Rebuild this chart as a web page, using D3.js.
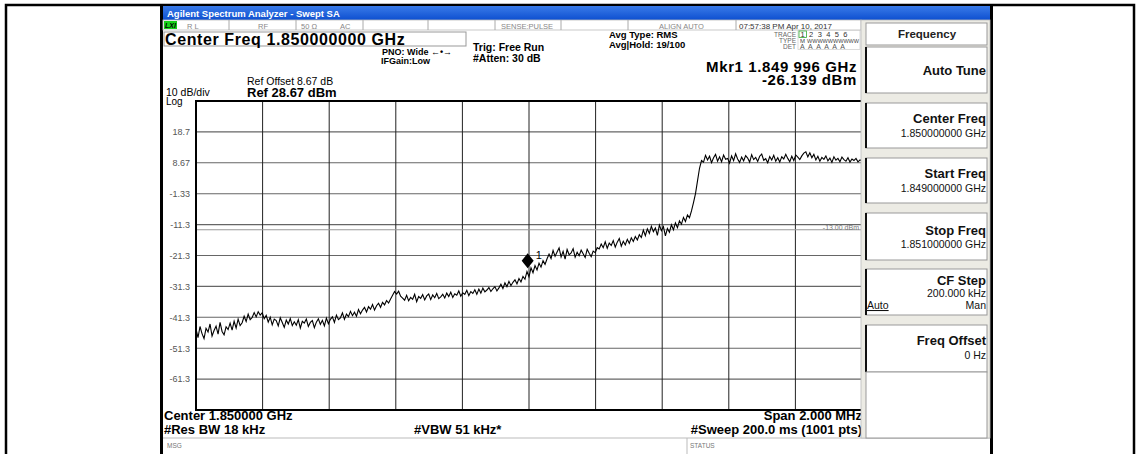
<!DOCTYPE html>
<html>
<head>
<meta charset="utf-8">
<script src="https://cdn.jsdelivr.net/npm/d3@7"></script>
<style>
  body { margin: 0; background: #fff; }
  svg { display: block; font-family: "Liberation Sans", Arial, sans-serif; }
</style>
</head>
<body>
<div id="chart"></div>
<script>
// sweep settings (GHz / dBm)
const startFreq = 1.849;
const stopFreq = 1.851;
const refLevel = 28.67;
const bottomLevel = -71.33;

const yTickValues = [18.67, 8.67, -1.33, -11.33, -21.33, -31.33, -41.33, -51.33, -61.33];
const yTickLabels = ["18.7", "8.67", "-1.33", "-11.3", "-21.3", "-31.3", "-41.3", "-51.3", "-61.3"];
const xDivisions = 10;

// trace 1 (333 samples across the span)
const traceDbm = [
  -45.1,-47.9,-44.3,-46.6,-48.2,-44.9,-46.1,-43.5,-47.4,-45.6,-44.2,-46.8,-43.0,-45.9,-47.0,-44.4,-45.3,
  -43.2,-45.5,-42.6,-44.8,-41.9,-44.0,-43.1,-41.0,-42.7,-40.3,-42.1,-41.4,-39.8,-41.2,
  -39.5,-40.6,-39.9,
  -41.8,-40.7,-42.9,-41.3,-43.8,-41.9,-42.4,-44.1,-41.5,-43.0,-44.6,-42.2,-43.5,-41.7,-44.0,-42.8,-43.9,
  -42.1,-44.8,-42.6,-43.2,-41.9,-44.3,-43.0,-42.4,-44.7,-42.9,-41.8,-43.6,-42.3,-44.1,-41.6,-43.4,-42.0,
  -41.2,-43.0,-40.6,-42.1,-41.5,-39.9,-42.0,-40.3,-41.1,-39.4,-40.8,-39.7,-41.0,-38.8,-40.2,
  -39.0,-38.1,-39.6,-37.9,-38.7,-37.2,-39.0,-37.6,-36.8,-38.1,-36.5,-37.3,-35.9,-36.7,-35.4,
  -34.2,-33.0,-33.8,-32.9,-34.5,-35.1,
  -35.8,-34.2,-36.0,-34.9,-35.5,-33.9,-36.3,-34.6,-35.2,-34.0,
  -35.7,-34.4,-33.8,-35.6,-34.1,-35.0,-33.6,-35.3,-34.7,-33.9,
  -35.1,-33.5,-34.6,-33.2,-34.9,-33.7,-34.2,-32.8,-34.5,-33.4,
  -33.9,-32.6,-34.3,-33.0,-33.6,-32.4,-33.9,-32.2,-33.5,-31.9,
  -33.1,-32.5,-31.7,-33.0,-32.1,-31.4,-32.8,
  -31.8,-30.6,-32.0,-30.2,-31.4,-29.7,-31.1,-30.0,-29.2,-30.5,-28.8,-29.9,-28.1,-29.0,
  -26.5,-28.2,-25.3,-26.9,-24.6,-26.0,-23.8,-25.1,-23.0,-24.2,-22.4,
  -20.9,-22.3,-19.7,-21.6,-20.2,-18.9,-21.8,-20.0,-22.5,-19.4,
  -21.1,-20.5,-19.1,-21.9,-20.3,-21.4,-19.6,-20.8,-22.0,-19.3,
  -20.6,-21.7,-19.9,-20.4,-18.8,
  -19.2,-17.6,-18.8,-16.9,-19.0,-17.3,-18.1,-16.5,-18.6,-17.0,
  -15.8,-18.3,-16.7,-17.9,-16.1,-17.4,-15.6,-16.8,-15.2,-16.3,
  -14.6,-15.5,-13.1,-14.9,-12.7,-14.2,-11.9,-13.6,-12.4,-14.8,-11.5,-13.3,-12.0,
  -15.0,-12.6,-13.8,-11.4,-13.0,-10.8,-12.3,-10.1,-11.2,-9.0,-10.3,-8.2,-9.1,-6.9,
  -4.2,-1.3,2.8,6.9,9.4,
  8.9,11.1,9.6,10.8,8.7,10.3,11.4,9.2,10.6,9.0,
  11.2,9.8,10.1,8.6,10.9,9.4,11.6,9.9,8.8,10.5,
  9.3,11.0,10.2,8.9,11.3,9.7,10.4,9.1,10.8,11.5,
  9.5,10.0,8.7,10.7,9.6,11.1,9.2,10.3,8.9,10.6,
  9.9,11.4,10.1,9.0,10.8,9.4,11.2,10.5,9.7,10.9,
  11.8,12.2,10.6,11.9,10.3,11.4,9.6,10.8,9.2,10.4,
  9.8,10.9,9.3,10.2,8.8,10.6,9.5,10.1,9.0,10.5,
  9.7,9.2,10.3,8.9,9.9,9.4,10.1,9.0,9.6,9.3
];

const markerFreq = 1.849996;
const markerDbm = -26.139;
const displayLine = -13.0;

const statusCells = ["R L", "RF", "50 \u03a9", "AC", "SENSE:PULSE", "ALIGN AUTO", "07:57:38 PM Apr 10, 2017"];
const menuTitles = ["Auto Tune", "Center Freq", "Start Freq", "Stop Freq", "CF Step", "Freq Offset"];
const menuValues = ["", "1.850000000 GHz", "1.849000000 GHz", "1.851000000 GHz", "200.000 kHz", "0 Hz"];

const W = 1136, H = 454;
const svg = d3.select("#chart").append("svg").attr("width", W).attr("height", H);

// outer page frame
svg.append("rect").attr("x", 6).attr("y", 5).attr("width", 1128).attr("height", 452)
  .attr("fill", "none").attr("stroke", "#000").attr("stroke-width", 2.5);
svg.append("rect").attr("x", 160).attr("y", 5).attr("width", 3).attr("height", 449).attr("fill", "#000");
svg.append("rect").attr("x", 990).attr("y", 5).attr("width", 3).attr("height", 449).attr("fill", "#000");

// title bar
const grad = svg.append("defs").append("linearGradient").attr("id", "tb").attr("x1", 0).attr("x2", 0).attr("y1", 0).attr("y2", 1);
grad.append("stop").attr("offset", "0%").attr("stop-color", "#3a7be8");
grad.append("stop").attr("offset", "100%").attr("stop-color", "#0d4fd0");
svg.append("rect").attr("x", 163).attr("y", 6).attr("width", 827).attr("height", 14).attr("fill", "url(#tb)");
svg.append("text").attr("x", 167).attr("y", 16.5).attr("fill", "#fff").attr("font-weight", "bold")
  .attr("font-size", 9.5).text("Agilent Spectrum Analyzer - Swept SA");

// status row
const status = svg.append("g");
status.append("rect").attr("x", 163).attr("y", 20).attr("width", 698).attr("height", 10).attr("fill", "#fff")
  .attr("stroke", "#bbb").attr("stroke-width", 0.8);
status.append("rect").attr("x", 164).attr("y", 21).attr("width", 13).attr("height", 8).attr("fill", "#18d018");
status.append("text").attr("x", 165).attr("y", 28).attr("font-size", 7).attr("font-weight", "bold")
  .attr("font-style", "italic").attr("fill", "#000").text("LXI");
[229, 296, 363, 428, 495, 561, 628, 736].forEach(x => {
  status.append("line").attr("x1", x).attr("x2", x).attr("y1", 20).attr("y2", 30).attr("stroke", "#aaa");
});
const statusX = [187, 258, 301, 340, 501, 659, 739];
statusCells.forEach((t, i) => {
  const last = i === statusCells.length - 1;
  status.append("text").attr("x", statusX[i]).attr("y", 28.5).attr("font-size", last ? 8 : 7.5)
    .attr("fill", last ? "#333" : "#888").text(t);
});

// center freq box
svg.append("rect").attr("x", 164).attr("y", 32).attr("width", 302).attr("height", 14)
  .attr("fill", "#fff").attr("stroke", "#999").attr("stroke-width", 1);
svg.append("text").attr("x", 165).attr("y", 44.5).attr("font-size", 16).attr("font-weight", "bold")
  .attr("letter-spacing", 0.6).text("Center Freq 1.850000000 GHz");

function label(x, y, size, bold, txt, anchor, spacing) {
  svg.append("text").attr("x", x).attr("y", y).attr("font-size", size)
    .attr("font-weight", bold ? "bold" : "normal").attr("text-anchor", anchor || "start")
    .attr("letter-spacing", spacing || 0).text(txt);
}
label(382, 55, 9, true, "PNO: Wide \u2190\u2022\u2192");
label(381, 64, 9, true, "IFGain:Low");
label(473, 51, 10.5, true, "Trig: Free Run");
label(473, 62, 10.5, true, "#Atten: 30 dB");
label(609, 38, 9.5, true, "Avg Type: RMS");
label(609, 47.5, 9.5, true, "Avg|Hold: 19/100");
label(857, 71.5, 15, true, "Mkr1 1.849 996 GHz", "end", 0.6);
label(857, 84.5, 15, true, "-26.139 dBm", "end", 0.6);
label(247, 85, 10.5, false, "Ref Offset 8.67 dB");
label(247, 97, 13, true, "Ref 28.67 dBm");
label(166, 96, 10.5, false, "10 dB/div");
label(166, 105, 10, false, "Log");

// trace info block
const tb = svg.append("g").attr("font-size", 6.5).attr("fill", "#666");
tb.append("rect").attr("x", 798).attr("y", 30.5).attr("width", 62).attr("height", 19).attr("fill", "#fff")
  .attr("stroke", "#ccc").attr("stroke-width", 0.7);
tb.append("rect").attr("x", 799).attr("y", 31).attr("width", 7.5).attr("height", 6.5).attr("fill", "none")
  .attr("stroke", "#3a3").attr("stroke-width", 0.8);
tb.append("text").attr("x", 796).attr("y", 36.5).attr("text-anchor", "end").text("TRACE");
tb.append("text").attr("x", 796).attr("y", 42.5).attr("text-anchor", "end").text("TYPE");
tb.append("text").attr("x", 796).attr("y", 48.5).attr("text-anchor", "end").text("DET");
tb.append("text").attr("x", 800.5).attr("y", 37).attr("font-size", 7.5).attr("fill", "#333")
  .attr("letter-spacing", 4.4).text("123456");
tb.append("text").attr("x", 800).attr("y", 42.5).attr("font-size", 6).attr("fill", "#444").text("M");
tb.append("text").attr("x", 807).attr("y", 42.5).attr("font-size", 6).attr("fill", "#444")
  .attr("textLength", 52).attr("lengthAdjust", "spacingAndGlyphs").text("WWWWWWWWWW");
tb.append("text").attr("x", 800).attr("y", 48.5).attr("font-size", 7).attr("fill", "#555")
  .attr("letter-spacing", 3.4).text("AAAAAA");

// plot area
const plotL = 196, plotR = 862, plotT = 101, plotB = 410;
const x = d3.scaleLinear().domain([startFreq, stopFreq]).range([plotL, plotR]);
const y = d3.scaleLinear().domain([bottomLevel, refLevel]).range([plotB, plotT]);
const idx = d3.scaleLinear().domain([0, traceDbm.length - 1]).range([startFreq, stopFreq]);

const plot = svg.append("g");
plot.append("rect").attr("x", plotL).attr("y", plotT).attr("width", plotR - plotL).attr("height", plotB - plotT)
  .attr("fill", "#fff");

const xGrid = d3.range(1, xDivisions).map(i => startFreq + i * (stopFreq - startFreq) / xDivisions);
plot.selectAll(".hg").data(yTickValues).join("line")
  .attr("x1", plotL).attr("x2", plotR).attr("y1", d => y(d)).attr("y2", d => y(d))
  .attr("stroke", "#666").attr("stroke-width", 1.1);
plot.selectAll(".vg").data(xGrid).join("line")
  .attr("x1", d => x(d)).attr("x2", d => x(d)).attr("y1", plotT).attr("y2", plotB)
  .attr("stroke", "#222").attr("stroke-width", 1);

// display line
plot.append("line").attr("x1", plotL).attr("x2", plotR).attr("y1", y(displayLine)).attr("y2", y(displayLine))
  .attr("stroke", "#999").attr("stroke-width", 1);
plot.append("text").attr("x", 859).attr("y", y(displayLine) + 0.5).attr("text-anchor", "end")
  .attr("font-size", 7).attr("fill", "#777").text("-13.00 dBm");

plot.append("rect").attr("x", plotL).attr("y", plotT).attr("width", plotR - plotL).attr("height", plotB - plotT)
  .attr("fill", "none").attr("stroke", "#000").attr("stroke-width", 2);

const yAxis = d3.axisLeft(y).tickValues(yTickValues).tickSize(0).tickPadding(6)
  .tickFormat((d, i) => yTickLabels[i]);
const ya = svg.append("g").attr("transform", `translate(${plotL},0)`).call(yAxis);
ya.select(".domain").remove();
ya.selectAll("text").attr("font-size", 9).attr("fill", "#555")
  .attr("font-family", "\"Liberation Sans\", Arial, sans-serif");

// trace
const line = d3.line().x((d, i) => x(idx(i))).y(d => y(d));
plot.append("path").datum(traceDbm).attr("d", line).attr("fill", "none")
  .attr("stroke", "#000").attr("stroke-width", 1.1);

// marker 1
const mx = x(markerFreq), my = y(markerDbm);
plot.append("path").attr("d", `M${mx},${my - 2} L${mx + 6},${my - 9.5} L${mx},${my - 17} L${mx - 6},${my - 9.5} Z`)
  .attr("fill", "#000");
plot.append("text").attr("x", mx + 8).attr("y", my - 11).attr("font-size", 11).attr("fill", "#000").text("1");

// bottom annotations
label(164, 420, 13, true, "Center 1.850000 GHz");
label(862, 420, 13, true, "Span 2.000 MHz", "end");
label(164, 434, 13, true, "#Res BW 18 kHz");
label(414, 434, 13, true, "#VBW 51 kHz*");
label(862, 434, 13, true, "#Sweep  200.0 ms (1001 pts)", "end");
svg.append("line").attr("x1", 163).attr("x2", 990).attr("y1", 438).attr("y2", 438).attr("stroke", "#bbb");
svg.append("line").attr("x1", 687).attr("x2", 687).attr("y1", 438).attr("y2", 454).attr("stroke", "#bbb");
svg.append("text").attr("x", 167).attr("y", 448).attr("font-size", 6.5).attr("fill", "#777").text("MSG");
svg.append("text").attr("x", 690).attr("y", 448).attr("font-size", 6.5).attr("fill", "#777").text("STATUS");

// softkey menu
const menu = svg.append("g");
menu.append("rect").attr("x", 861).attr("y", 20).attr("width", 129).attr("height", 418)
  .attr("fill", "#ecebe4").attr("stroke", "#bbb").attr("stroke-width", 0.8);
menu.append("rect").attr("x", 866).attr("y", 23).attr("width", 121).attr("height", 22)
  .attr("fill", "#fff").attr("stroke", "#999");
menu.append("text").attr("x", 927).attr("y", 38).attr("text-anchor", "middle").attr("font-size", 11.5)
  .attr("font-weight", "bold").attr("fill", "#222").text("Frequency");

const buttonTop = [47, 103, 158, 213, 269, 325];
const buttonBot = [93, 148, 203, 260, 315, 372];
const titleY = [75, 123, 178, 235, 285, 345];
const valueY = [0, 137, 192, 248, 296.5, 359];
menuTitles.forEach((t, i) => {
  menu.append("rect").attr("x", 866).attr("y", buttonTop[i]).attr("width", 121)
    .attr("height", buttonBot[i] - buttonTop[i]).attr("fill", "#fff").attr("stroke", "#999");
  menu.append("line").attr("x1", 866).attr("x2", 866).attr("y1", buttonTop[i]).attr("y2", buttonBot[i])
    .attr("stroke", "#111").attr("stroke-width", 2);
  menu.append("text").attr("x", 986).attr("y", titleY[i]).attr("text-anchor", "end").attr("font-size", 13)
    .attr("font-weight", "bold").attr("fill", "#111").text(t);
  if (menuValues[i]) {
    menu.append("text").attr("x", 986).attr("y", valueY[i]).attr("text-anchor", "end").attr("font-size", 10.5)
      .attr("fill", "#111").text(menuValues[i]);
  }
});
menu.append("text").attr("x", 867).attr("y", 309).attr("font-size", 10.5).attr("fill", "#111")
  .attr("text-decoration", "underline").text("Auto");
menu.append("text").attr("x", 986).attr("y", 309).attr("text-anchor", "end").attr("font-size", 10.5)
  .attr("fill", "#111").text("Man");
menu.append("rect").attr("x", 866).attr("y", 372).attr("width", 121).attr("height", 66)
  .attr("fill", "#fff").attr("stroke", "#999");
</script>
</body>
</html>
